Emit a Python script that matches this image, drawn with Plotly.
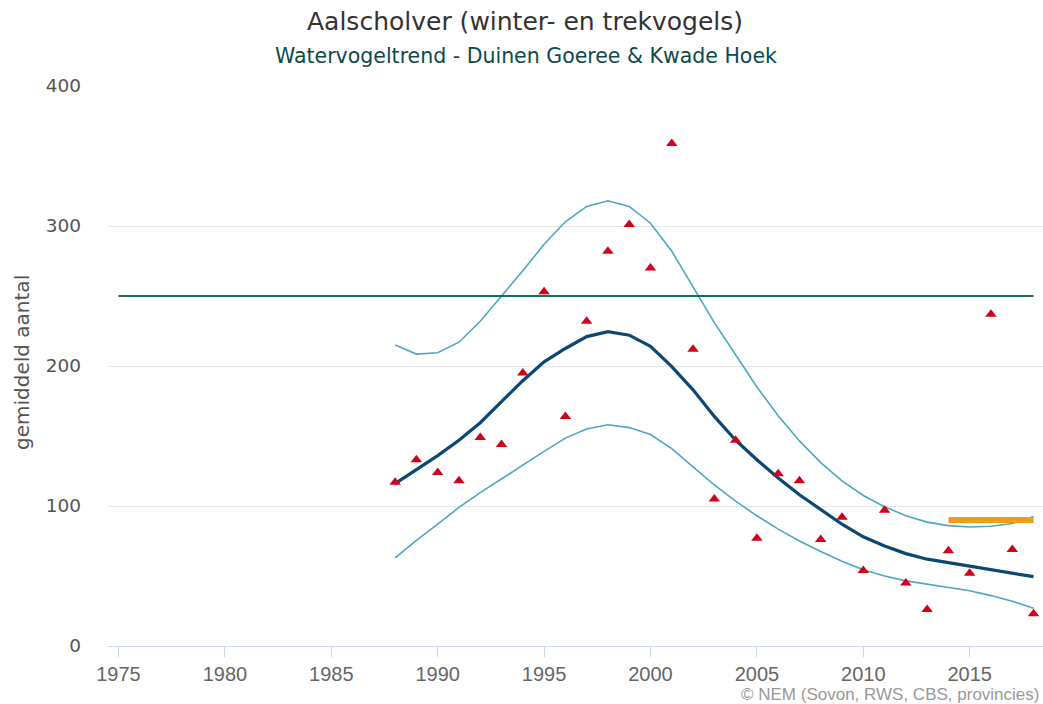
import plotly.graph_objects as go

# Yearly winter counts and fitted trend with its confidence band
years = list(range(1988, 2019))
counts = [117, 133, 124, 118, 149, 144, 195, 253, 164, 232, 282, 301, 270, 359, 212,
          105, 147, 77, 123, 118, 76, 92, 54, 97, 45, 26, 68, 52, 237, 69, 23]
trend = [116, 126, 136, 147, 159.5, 174.5, 189.5, 203, 212.5, 221, 224.5, 222, 214, 199.5,
         183, 164, 147, 133, 120, 108, 97.5, 87, 78, 71.5, 66, 62, 59.5, 57, 54.5, 52, 49.5]
upper = [215, 208.5, 209.5, 217, 232, 250, 268, 287, 303, 314, 318, 314, 302, 282, 257,
         231, 208, 185, 164.5, 146.5, 131, 118, 107.5, 99.5, 93, 88.5, 86, 85, 85.5, 87.5, 92.5]
lower = [63, 75.5, 87, 99, 109.5, 119.5, 129, 139, 148.5, 155, 158, 156, 151, 141, 128,
         115, 103.5, 93, 83.5, 75, 67.5, 60.5, 54.5, 50, 46.5, 44, 42, 39.5, 36, 32, 27]

# Reference level and recent mean level
ref_years = [1975, 2018]
ref_level = [250, 250]
recent_years = [2014, 2018]
recent_level = [90, 90]

x_ticks = [1975, 1980, 1985, 1990, 1995, 2000, 2005, 2010, 2015]
y_ticks = [0, 100, 200, 300, 400]

FONT = "DejaVu Sans"
W, H = 1043.0, 704.0
L, R, T, B = 108, 0, 86, 58


def page_to_plot(px, py):
    """Convert page pixel coordinates to paper coordinates of the plot area."""
    return (px - L) / (W - L - R), 1 - (py - T) / (H - T - B)


fig = go.Figure()
fig.add_trace(go.Scatter(x=years, y=upper, mode="lines",
                         line=dict(color="#4ea6c4", width=1.6), hoverinfo="skip"))
fig.add_trace(go.Scatter(x=years, y=lower, mode="lines",
                         line=dict(color="#4ea6c4", width=1.6), hoverinfo="skip"))
fig.add_trace(go.Scatter(x=years, y=trend, mode="lines",
                         line=dict(color="#0b4873", width=3.2), hoverinfo="skip"))
fig.add_trace(go.Scatter(x=ref_years, y=ref_level, mode="lines",
                         line=dict(color="#1a6e50", width=2), hoverinfo="skip"))
fig.add_trace(go.Scatter(x=recent_years, y=recent_level, mode="lines",
                         line=dict(color="#f29d16", width=6), hoverinfo="skip"))
fig.add_trace(go.Scatter(x=years, y=counts, mode="markers",
                         marker=dict(symbol="triangle-up", size=10, color="#d0021b",
                                     line=dict(width=0)),
                         hoverinfo="skip"))

texts = [
    ("Aalscholver (winter- en trekvogels)", 525, 22, "center", 25, "#333333", FONT, 0),
    ("Watervogeltrend - Duinen Goeree & Kwade Hoek", 526, 56, "center", 20.5, "#0c4a4c", FONT, 0),
    ("gemiddeld aantal", 22, 363, "center", 20, "#555555", FONT, -90),
    ("© NEM (Sovon, RWS, CBS, provincies)", 1041, 694, "right", 17, "#999999",
     "Liberation Sans", 0),
]
annotations = []
for text, px, py, anchor, size, color, family, angle in texts:
    ax, ay = page_to_plot(px, py)
    annotations.append(dict(text=text, x=ax, y=ay, xref="paper", yref="paper",
                            showarrow=False, xanchor=anchor, yanchor="middle",
                            textangle=angle,
                            font=dict(family=family, size=size, color=color)))

fig.update_layout(
    width=1043, height=704,
    margin=dict(l=L, r=R, t=T, b=B),
    paper_bgcolor="white", plot_bgcolor="white",
    showlegend=False,
    font=dict(family=FONT, color="#666666"),
    xaxis=dict(
        range=[1974.507, 2018.445],
        tickmode="array", tickvals=x_ticks, ticktext=[str(t) for t in x_ticks],
        showgrid=False, zeroline=False,
        showline=True, linecolor="#ccd6eb", linewidth=1,
        ticks="outside", ticklen=10, tickcolor="#ccd6eb", tickwidth=1,
        tickfont=dict(family="Liberation Sans", size=20, color="#666666"),
    ),
    yaxis=dict(
        range=[0, 400],
        tickmode="array", tickvals=y_ticks, ticktext=[str(t) for t in y_ticks],
        showgrid=True, gridcolor="#e6e6e6", gridwidth=1,
        zeroline=False, showline=False,
        ticks="", ticklabelstandoff=26,
        tickfont=dict(family=FONT, size=18.5, color="#555555"),
    ),
    annotations=annotations,
)

fig.write_html("out.html", config={"displayModeBar": False})
